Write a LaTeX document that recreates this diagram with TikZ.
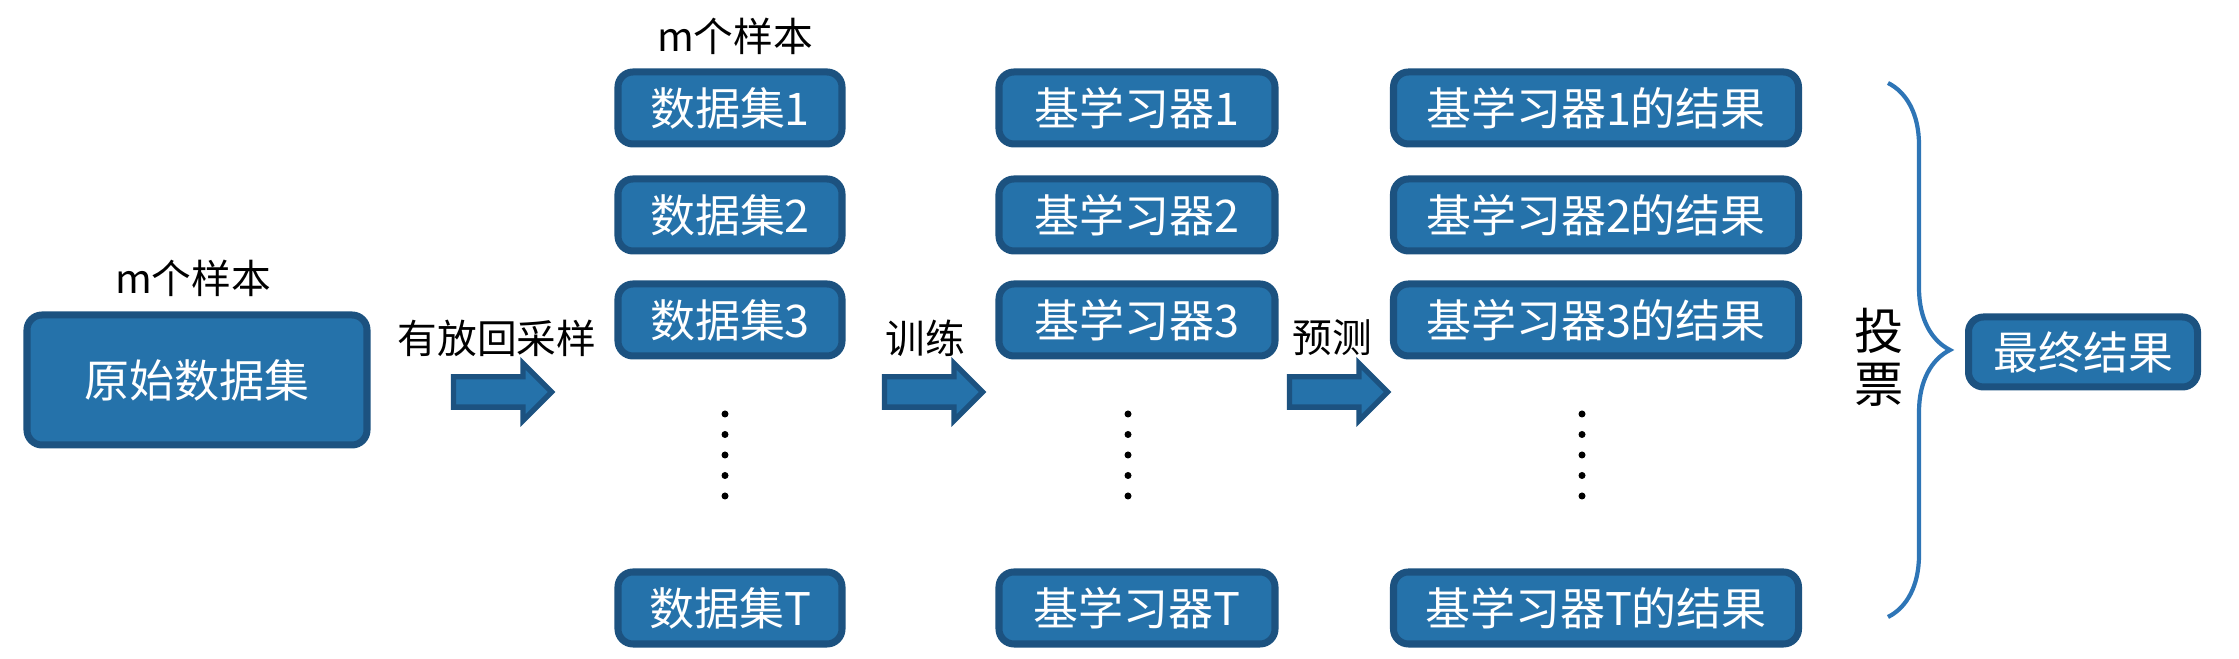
\documentclass[tikz,border=0pt]{standalone}
\usepackage{fontspec}
\setmainfont{Noto Sans CJK SC}
\usepackage{xcolor}
\usepackage{tikz}
\usetikzlibrary{calc}
\usetikzlibrary{arrows.meta}
\usetikzlibrary{shapes}
\usetikzlibrary{shapes.arrows}
\usetikzlibrary{positioning}
\usetikzlibrary{decorations.pathreplacing}
\definecolor{boxblue}{RGB}{37,114,170}
\definecolor{edgeblue}{RGB}{28,82,128}
\definecolor{braceblue}{RGB}{46,117,182}
\tikzset{>=latex}
\tikzstyle{blk} = [draw = edgeblue, fill = boxblue, line width = 2pt, rounded corners = 0.15cm, inner sep = 0, minimum height = 0.72cm, text = white, font = \fontsize{12.8}{14}\selectfont]
\tikzstyle{lbl} = [draw = none, inner sep = 0, font = \fontsize{11.3}{13}\selectfont]
\tikzstyle{fat} = [single arrow, draw = edgeblue, fill = boxblue, line width = 1.5pt, inner sep = 0.125cm, single arrow head extend = 0.135cm, minimum height = 0.98cm]

\begin{document}
\begin{tikzpicture}
\useasboundingbox (0, 0) rectangle (22.39, 6.59);
\node [blk, minimum width = 3.40cm, minimum height = 1.30cm] (orig) at (1.97, 2.79) {原始数据集};
\node [lbl] (mo) at (1.93, 3.81) {m个样本};
\node [lbl] (m1) at (7.35, 6.23) {m个样本};
\node [blk, minimum width = 2.24cm] (D1) at (7.30, 5.51) {数据集1};
\node [blk, minimum width = 2.24cm] (D2) at (7.30, 4.44) {数据集2};
\node [blk, minimum width = 2.24cm] (D3) at (7.30, 3.39) {数据集3};
\node [blk, minimum width = 2.24cm] (DT) at (7.30, 0.51) {数据集T};
\node [blk, minimum width = 2.76cm] (B1) at (11.37, 5.51) {基学习器1};
\node [blk, minimum width = 2.76cm] (B2) at (11.37, 4.44) {基学习器2};
\node [blk, minimum width = 2.76cm] (B3) at (11.37, 3.39) {基学习器3};
\node [blk, minimum width = 2.76cm] (BT) at (11.37, 0.51) {基学习器T};
\node [blk, minimum width = 4.05cm] (R1) at (15.96, 5.51) {基学习器1的结果};
\node [blk, minimum width = 4.05cm] (R2) at (15.96, 4.44) {基学习器2的结果};
\node [blk, minimum width = 4.05cm] (R3) at (15.96, 3.39) {基学习器3的结果};
\node [blk, minimum width = 4.05cm] (RT) at (15.96, 0.51) {基学习器T的结果};
\node [blk, minimum width = 2.29cm, minimum height = 0.70cm] (fin) at (20.83, 3.07) {最终结果};
% block arrows and their labels
\node [lbl] (samp) at (4.97, 3.21) {有放回采样};
\node [lbl] (train) at (9.25, 3.21) {训练};
\node [lbl] (pred) at (13.32, 3.21) {预测};
\node [fat] (a1) at (4.95, 2.67) {};
\node [fat] (a2) at (9.26, 2.67) {};
\node [fat] (a3) at (13.31, 2.67) {};
% vertical dots
\foreach \x in {7.25, 11.28, 15.82}
  \foreach \k in {0, ..., 4}
    \fill (\x, 2.45 - 0.205 * \k) circle (0.035);
% voting brace
\coordinate (bt) at (18.88, 5.76);
\coordinate (bb) at (18.88, 0.42);
\draw [draw = braceblue, line width = 1.2pt, decorate, decoration = {brace, amplitude = 0.62cm}] (bt) to (bb);
\node [draw = none, inner sep = 0, align = center, font = \fontsize{14}{15}\selectfont] (vote) at (18.79, 3.02) {投\\票};
\end{tikzpicture}
\end{document}
